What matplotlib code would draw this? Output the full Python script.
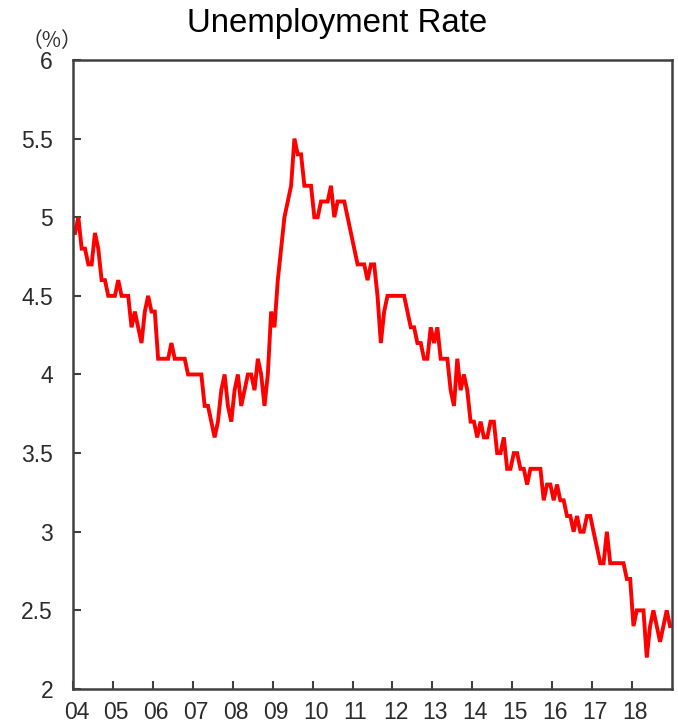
#!/usr/bin/env python3
"""Monthly unemployment rate, Jan 2004 - Dec 2018."""

import matplotlib
matplotlib.use("Agg")
import matplotlib.pyplot as plt
import matplotlib.transforms as mtransforms
import numpy as np

plt.rcParams["font.family"] = ["Liberation Sans", "DejaVu Sans"]

title = "Unemployment Rate"
unit_label = "（%）"
year_labels = ["04", "05", "06", "07", "08", "09", "10", "11", "12", "13",
               "14", "15", "16", "17", "18"]
y_ticks = [2, 2.5, 3, 3.5, 4, 4.5, 5, 5.5, 6]

# one value per month, Jan 2004 onward
rate = [
    # 2004
    4.9, 5.0, 4.8, 4.8, 4.7, 4.7, 4.9, 4.8, 4.6, 4.6, 4.5, 4.5,
    # 2005
    4.5, 4.6, 4.5, 4.5, 4.5, 4.3, 4.4, 4.3, 4.2, 4.4, 4.5, 4.4,
    # 2006
    4.4, 4.1, 4.1, 4.1, 4.1, 4.2, 4.1, 4.1, 4.1, 4.1, 4.0, 4.0,
    # 2007
    4.0, 4.0, 4.0, 3.8, 3.8, 3.7, 3.6, 3.7, 3.9, 4.0, 3.8, 3.7,
    # 2008
    3.9, 4.0, 3.8, 3.9, 4.0, 4.0, 3.9, 4.1, 4.0, 3.8, 4.0, 4.4,
    # 2009
    4.3, 4.6, 4.8, 5.0, 5.1, 5.2, 5.5, 5.4, 5.4, 5.2, 5.2, 5.2,
    # 2010
    5.0, 5.0, 5.1, 5.1, 5.1, 5.2, 5.0, 5.1, 5.1, 5.1, 5.0, 4.9,
    # 2011
    4.8, 4.7, 4.7, 4.7, 4.6, 4.7, 4.7, 4.5, 4.2, 4.4, 4.5, 4.5,
    # 2012
    4.5, 4.5, 4.5, 4.5, 4.4, 4.3, 4.3, 4.2, 4.2, 4.1, 4.1, 4.3,
    # 2013
    4.2, 4.3, 4.1, 4.1, 4.1, 3.9, 3.8, 4.1, 3.9, 4.0, 3.9, 3.7,
    # 2014
    3.7, 3.6, 3.7, 3.6, 3.6, 3.7, 3.7, 3.5, 3.5, 3.6, 3.4, 3.4,
    # 2015
    3.5, 3.5, 3.4, 3.4, 3.3, 3.4, 3.4, 3.4, 3.4, 3.2, 3.3, 3.3,
    # 2016
    3.2, 3.3, 3.2, 3.2, 3.1, 3.1, 3.0, 3.1, 3.0, 3.0, 3.1, 3.1,
    # 2017
    3.0, 2.9, 2.8, 2.8, 3.0, 2.8, 2.8, 2.8, 2.8, 2.8, 2.7, 2.7,
    # 2018
    2.4, 2.5, 2.5, 2.5, 2.2, 2.4, 2.5, 2.4, 2.3, 2.4, 2.5, 2.4,
]


def main():
    fig = plt.figure(figsize=(6.78, 7.26), dpi=100)
    ax = fig.add_axes([0.1077, 0.051, 0.8835, 0.8664])

    months = np.arange(len(rate))
    ax.plot(months, rate, color="#ff0000", lw=2.8, solid_joinstyle="miter")

    ax.set_xlim(-0.6, len(rate) - 0.4)
    ax.set_ylim(2, 6)

    ax.set_xticks(np.arange(len(year_labels)) * 12 - 0.5)
    ax.set_xticklabels(year_labels)
    ax.set_yticks(y_ticks)
    ax.set_yticklabels([f"{v:g}" for v in y_ticks])

    for side in ax.spines.values():
        side.set_color("#404040")
        side.set_linewidth(1.8)
    ax.tick_params(direction="in", length=6, width=1.5, color="#404040",
                   labelsize=16.5, labelcolor="#2b2b2b")
    ax.tick_params(axis="y", pad=14.4)
    ax.tick_params(axis="x", pad=9)

    # year labels sit a touch right of their ticks in the original
    shift = mtransforms.ScaledTranslation(3 / 100, 0, fig.dpi_scale_trans)
    for lab in ax.get_xticklabels():
        lab.set_transform(lab.get_transform() + shift)

    fig.text(0.4966, 0.9563, title, ha="center", va="baseline", fontsize=23.8)
    fig.text(0.0767, 0.9435, unit_label, ha="center", va="center",
             fontsize=15, family=["Noto Sans CJK JP", "DejaVu Sans"],
             color="#2b2b2b")

    fig.savefig("out.png", dpi=100)


if __name__ == "__main__":
    main()
